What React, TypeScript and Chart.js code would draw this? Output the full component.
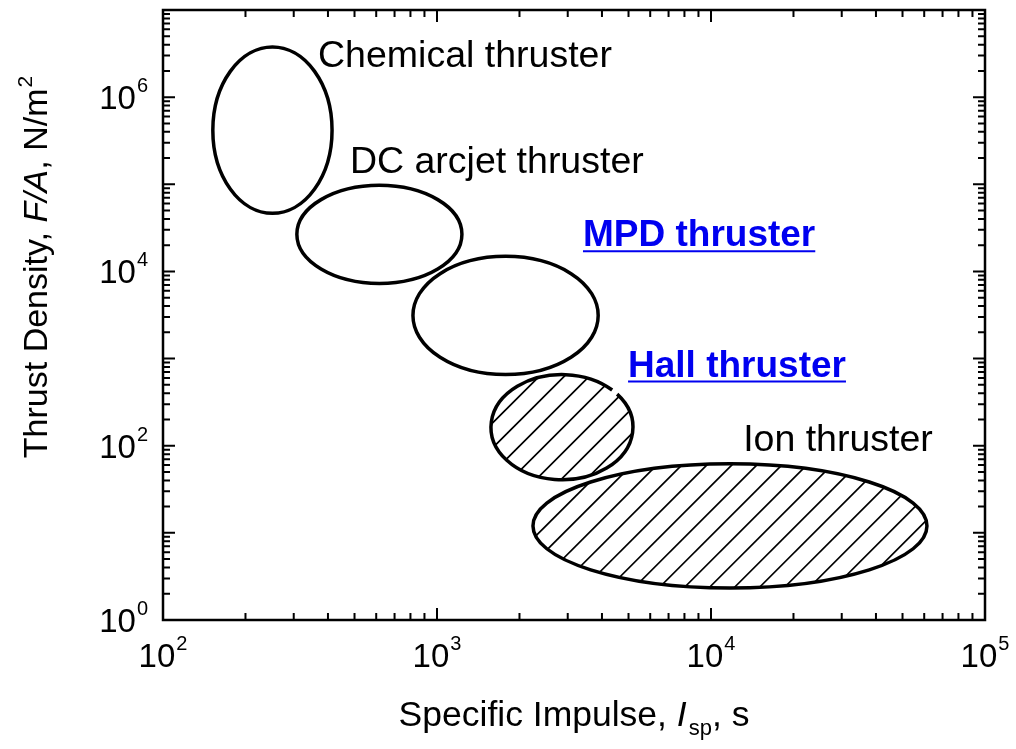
import React, { useEffect, useRef } from 'react';
import { Chart, registerables } from 'chart.js';

Chart.register(...registerables);

// ---------------- data ----------------
const thrusterNames = ['Chemical thruster', 'DC arcjet thruster', 'MPD thruster', 'Hall thruster', 'Ion thruster'];
// specific impulse range of each region (s)
const ispMin = [152, 308, 817, 1574, 2240];
const ispMax = [414, 1233, 3875, 5190, 61400];
// thrust density range of each region (N/m^2)
const densMin = [4.64e4, 7.28e3, 655, 40.6, 2.33];
const densMax = [3.76e6, 9.75e4, 1.49e4, 655, 62];
const hatched = [false, false, false, true, true];

// label anchors (data units: Isp, F/A)
const labelIsp = [368, 481, 3410, 4980, 13100];
const labelDens = [2.21e6, 1.34e5, 1.94e4, 621, 87.7];
const labelHighlighted = [false, false, true, true, false];

// axes
const xRange = [1e2, 1e5];
const yRange = [1e0, 1e7];
const xTickExponents = [2, 3, 4, 5];
const yTickExponents = [0, 2, 4, 6];
const xTitle = ['Specific Impulse, ', 'I', 'sp', ', s'];
const yTitle = ['Thrust Density, ', 'F/A', ', N/m', '2'];

// ---------------- style ----------------
const FONT = '"Liberation Sans", Arial, Helvetica, sans-serif';
const BLUE = '#0000f0';
const GAP_DEG: (number | null)[] = [null, null, null, -42, null];

function drawPow(ctx: CanvasRenderingContext2D, exp: number, x: number, baseY: number, align: 'right' | 'center') {
  const base = '10';
  const sup = String(exp);
  ctx.font = `33px ${FONT}`;
  const wb = ctx.measureText(base).width;
  ctx.font = `20px ${FONT}`;
  const ws = ctx.measureText(sup).width;
  const total = wb + ws + 1;
  const left = align === 'right' ? x - total : x - total / 2;
  ctx.textAlign = 'left';
  ctx.textBaseline = 'alphabetic';
  ctx.font = `33px ${FONT}`;
  ctx.fillText(base, left, baseY);
  ctx.font = `20px ${FONT}`;
  ctx.fillText(sup, left + wb + 1, baseY - 17);
}

const thrusterPlugin = {
  id: 'thrusters',
  afterDraw(chart: any) {
    const { ctx, chartArea: a } = chart;
    const xs = chart.scales.x;
    const ys = chart.scales.y;
    ctx.save();
    ctx.fillStyle = '#000';
    ctx.strokeStyle = '#000';

    // regions
    for (let i = 0; i < thrusterNames.length; i++) {
      const x0 = xs.getPixelForValue(ispMin[i]);
      const x1 = xs.getPixelForValue(ispMax[i]);
      const y0 = ys.getPixelForValue(densMax[i]);
      const y1 = ys.getPixelForValue(densMin[i]);
      const cx = (x0 + x1) / 2, cy = (y0 + y1) / 2;
      const rx = (x1 - x0) / 2, ry = (y1 - y0) / 2;
      if (hatched[i]) {
        ctx.save();
        ctx.beginPath();
        ctx.ellipse(cx, cy, rx, ry, 0, 0, Math.PI * 2);
        ctx.clip();
        ctx.lineWidth = 1.7;
        ctx.beginPath();
        const h = y1 - y0;
        const sp = 25;
        for (let c = x0 - h - sp; c < x1 + sp; c += sp) {
          ctx.moveTo(c, y1);
          ctx.lineTo(c + h, y0);
        }
        ctx.stroke();
        ctx.restore();
      }
      ctx.lineWidth = 3.5;
      ctx.beginPath();
      const g = GAP_DEG[i];
      if (g !== null) {
        const s = ((g + 3) * Math.PI) / 180;
        const e = ((g - 3) * Math.PI) / 180 + Math.PI * 2;
        ctx.ellipse(cx, cy, rx, ry, 0, s, e);
      } else {
        ctx.ellipse(cx, cy, rx, ry, 0, 0, Math.PI * 2);
      }
      ctx.stroke();
    }

    // labels
    for (let i = 0; i < thrusterNames.length; i++) {
      const px = xs.getPixelForValue(labelIsp[i]);
      const py = ys.getPixelForValue(labelDens[i]);
      ctx.textAlign = 'left';
      ctx.textBaseline = 'alphabetic';
      if (labelHighlighted[i]) {
        ctx.font = `bold 37px ${FONT}`;
        ctx.fillStyle = BLUE;
        ctx.fillText(thrusterNames[i], px, py);
        const w = ctx.measureText(thrusterNames[i]).width;
        ctx.strokeStyle = BLUE;
        ctx.lineWidth = 2;
        ctx.beginPath();
        ctx.moveTo(px, py + 5);
        ctx.lineTo(px + w, py + 5);
        ctx.stroke();
        ctx.fillStyle = '#000';
        ctx.strokeStyle = '#000';
      } else {
        ctx.font = `37.5px ${FONT}`;
        ctx.fillText(thrusterNames[i], px, py);
      }
    }

    // frame
    ctx.lineWidth = 2.5;
    ctx.strokeRect(a.left, a.top, a.right - a.left, a.bottom - a.top);

    // ticks
    ctx.lineWidth = 2;
    ctx.beginPath();
    for (let e = Math.round(Math.log10(xRange[0])); e <= Math.round(Math.log10(xRange[1])); e++) {
      for (let m = 1; m <= 9; m++) {
        const v = m * Math.pow(10, e);
        if (v > xRange[1] * 1.0001) break;
        const p = xs.getPixelForValue(v);
        const len = m === 1 ? 12 : 7;
        ctx.moveTo(p, a.bottom); ctx.lineTo(p, a.bottom - len);
        ctx.moveTo(p, a.top); ctx.lineTo(p, a.top + len);
      }
    }
    for (let e = Math.round(Math.log10(yRange[0])); e <= Math.round(Math.log10(yRange[1])); e++) {
      for (let m = 1; m <= 9; m++) {
        const v = m * Math.pow(10, e);
        if (v > yRange[1] * 1.0001) break;
        const p = ys.getPixelForValue(v);
        const len = m === 1 ? 12 : 7;
        ctx.moveTo(a.left, p); ctx.lineTo(a.left + len, p);
        ctx.moveTo(a.right, p); ctx.lineTo(a.right - len, p);
      }
    }
    ctx.stroke();

    // tick labels
    ctx.fillStyle = '#000';
    for (const e of xTickExponents) {
      const p = xs.getPixelForValue(Math.pow(10, e));
      drawPow(ctx, e, p, a.bottom + 47, 'center');
    }
    for (const e of yTickExponents) {
      const p = ys.getPixelForValue(Math.pow(10, e));
      drawPow(ctx, e, a.left - 15, p + 12, 'right');
    }

    // x title
    {
      const f = `35.5px ${FONT}`, fi = `italic 35.5px ${FONT}`, fs = `22px ${FONT}`;
      ctx.font = f; const w0 = ctx.measureText(xTitle[0]).width;
      ctx.font = fi; const w1 = ctx.measureText(xTitle[1]).width;
      ctx.font = fs; const w2 = ctx.measureText(xTitle[2]).width;
      ctx.font = f; const w3 = ctx.measureText(xTitle[3]).width;
      const total = w0 + w1 + w2 + w3 + 2;
      let left = (a.left + a.right) / 2 - total / 2;
      const base = 726;
      ctx.textAlign = 'left';
      ctx.font = f; ctx.fillText(xTitle[0], left, base); left += w0;
      ctx.font = fi; ctx.fillText(xTitle[1], left, base); left += w1 + 2;
      ctx.font = fs; ctx.fillText(xTitle[2], left, base + 9); left += w2;
      ctx.font = f; ctx.fillText(xTitle[3], left, base);
    }

    // y title
    {
      ctx.save();
      ctx.translate(47, 267);
      ctx.rotate(-Math.PI / 2);
      const f = `34px ${FONT}`, fi = `italic 34px ${FONT}`, fs = `21px ${FONT}`;
      ctx.font = f; const w0 = ctx.measureText(yTitle[0]).width;
      ctx.font = fi; const w1 = ctx.measureText(yTitle[1]).width;
      ctx.font = f; const w2 = ctx.measureText(yTitle[2]).width;
      ctx.font = fs; const w3 = ctx.measureText(yTitle[3]).width;
      const total = w0 + w1 + w2 + w3 + 1;
      let left = -total / 2;
      ctx.textAlign = 'left';
      ctx.font = f; ctx.fillText(yTitle[0], left, 0); left += w0;
      ctx.font = fi; ctx.fillText(yTitle[1], left, 0); left += w1;
      ctx.font = f; ctx.fillText(yTitle[2], left, 0); left += w2 + 1;
      ctx.font = fs; ctx.fillText(yTitle[3], left, -15);
      ctx.restore();
    }

    ctx.restore();
  },
};

export default function App() {
  const ref = useRef<HTMLCanvasElement | null>(null);
  useEffect(() => {
    if (!ref.current) return;
    const chart = new Chart(ref.current, {
      type: 'scatter',
      data: { datasets: [{ label: 'regions', data: [], pointRadius: 0 }] },
      options: {
        animation: false,
        responsive: false,
        layout: { padding: { left: 163, right: 31, top: 10, bottom: 129 } },
        plugins: { legend: { display: false }, tooltip: { enabled: false } },
        scales: {
          x: { type: 'logarithmic', min: xRange[0], max: xRange[1], display: false },
          y: { type: 'logarithmic', min: yRange[0], max: yRange[1], display: false },
        },
      },
      plugins: [thrusterPlugin],
    });
    return () => chart.destroy();
  }, []);
  return (
    <div style={{ position: 'absolute', left: 0, top: 0, width: 1016, height: 749, background: '#fff', overflow: 'hidden' }}>
      <canvas ref={ref} width={1016} height={749} style={{ display: 'block' }} />
    </div>
  );
}
